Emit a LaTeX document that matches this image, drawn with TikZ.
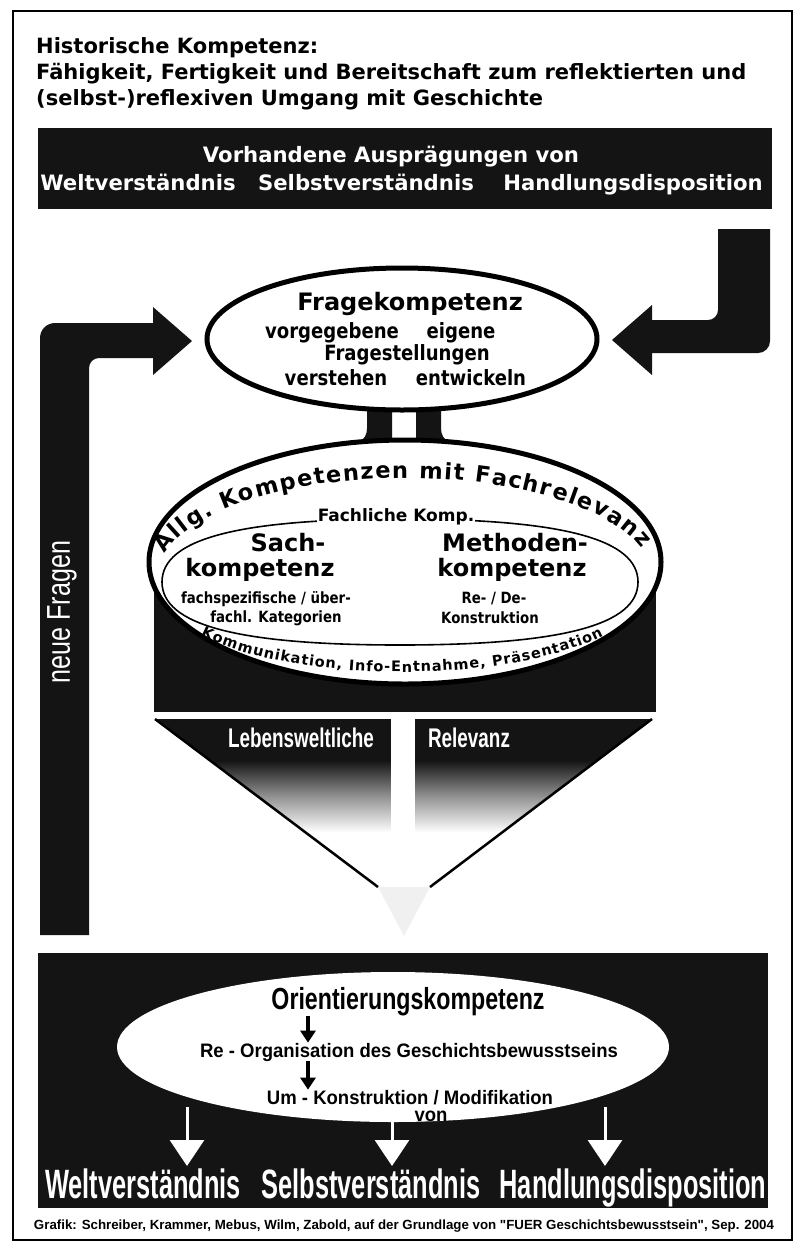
\documentclass[tikz,border=0pt]{standalone}
\usepackage{fontspec}
\setmainfont{DejaVu Sans}
\newfontfamily\verd{DejaVu Sans}
\newfontfamily\tah{DejaVu Sans}[FakeStretch=0.86]
\newfontfamily\narA{Liberation Sans}[FakeStretch=0.62]
\newfontfamily\narB{Liberation Sans}[FakeStretch=0.70]
\newfontfamily\narC{Liberation Sans}[FakeStretch=0.76]
\newfontfamily\narD{Liberation Sans}[FakeStretch=0.95]
\newfontfamily\footfont{Liberation Sans}
\usetikzlibrary{shapes.geometric,arrows.meta,decorations.text}
\newcommand{\myfs}[1]{\fontsize{#1}{#1}\selectfont}
\pgfdeclareverticalshading{downfade}{100bp}{color(0bp)=(white); color(45bp)=(white); color(55bp)=(black!45); color(64bp)=(black!92); color(100bp)=(black!92)}
\begin{document}
\begin{tikzpicture}[x=1pt,y=-1pt,
  ink/.style={fill=black!92},
  ttl/.style={anchor=west,inner sep=0pt,font=\verd\bfseries\myfs{21}},
  bartxt/.style={anchor=base,text=white,inner sep=0pt,font=\verd\bfseries\myfs{21.2}},
  fragehead/.style={inner sep=0pt,font=\verd\bfseries\myfs{24}},
  fragetxt/.style={inner sep=0pt,font=\tah\bfseries\myfs{21}},
  fachhead/.style={inner sep=1pt,fill=white,font=\verd\bfseries\myfs{17}},
  bigkomp/.style={inner sep=0pt,font=\verd\bfseries\myfs{24}},
  smallkomp/.style={inner sep=0pt,font=\tah\bfseries\myfs{15.5}},
  relev/.style={text=white,inner sep=0pt,font=\narB\bfseries\myfs{27}},
  orihead/.style={anchor=base,inner sep=0pt,font=\narC\bfseries\myfs{30.5}},
  oritxt/.style={anchor=base,inner sep=0pt,font=\narD\bfseries\myfs{19.5}},
  bottomword/.style={anchor=base,text=white,inner sep=0pt,font=\narA\bfseries\myfs{41}},
  sarrow/.style={line width=4pt,-{Triangle[width=15pt,length=12pt]}},
  warrow/.style={draw=white,line width=3pt,-{Triangle[width=34pt,length=26pt,fill=white]}},
  ell/.style={ellipse,inner sep=0pt}
]
\useasboundingbox (0,0) rectangle (804,1243);
\fill[white] (0,0) rectangle (804,1243);
% frame
\draw[line width=1.5pt] (13,11) rectangle (792,1240);

% title
\node[ttl] (t1) at (36,48) {Historische Kompetenz:};
\node[ttl] (t2) at (36,74) {Fähigkeit, Fertigkeit und Bereitschaft zum reflektierten und};
\node[ttl] (t3) at (36,100) {(selbst-)reflexiven Umgang mit Geschichte};

% top bar
\fill[ink] (38,128) rectangle (772,209);
\node[bartxt] (vorh) at (391,162) {Vorhandene Ausprägungen von};
\node[bartxt] (w1) at (138,190) {Weltverständnis};
\node[bartxt] (s1) at (366,190) {Selbstverständnis};
\node[bartxt] (h1) at (633,190) {Handlungsdisposition};

% right arrow
\fill[ink] (718,229) -- (770,229) -- (770,341) arc[start angle=0,end angle=90,radius=12]
  -- (652,353) -- (652,375) -- (612,340) -- (652,305) -- (652,320) -- (708,320)
  arc[start angle=90,end angle=0,radius=10] -- cycle;

% left arrow (neue Fragen)
\fill[ink] (40,935) -- (40,338) arc[start angle=180,end angle=270,radius=15]
  -- (153,323) -- (153,307) -- (192,341) -- (153,375) -- (153,358) -- (99,358)
  arc[start angle=270,end angle=180,radius=10] -- (89,935) -- cycle;
\node[rotate=90,text=white,inner sep=0pt,font=\narC\myfs{33}] (nf) at (62,612) {neue Fragen};

% stems between the two ellipses
\fill[ink] (367,395) -- (367,428) .. controls (367,441) and (358,447) .. (320,452)
  -- (320,470) -- (392,470) -- (392,395) -- cycle;
\fill[ink] (441,395) -- (441,428) .. controls (441,441) and (450,447) .. (488,452)
  -- (488,470) -- (416,470) -- (416,395) -- cycle;

% black band behind the middle ellipse
\fill[ink] (154,588) rectangle (656,712);

% middle ellipse
\node[ell,draw,line width=5pt,fill=white,minimum width=512pt,minimum height=244pt] (allg) at (405,562) {};
\path[decorate,decoration={text along path,text align=fit to path,
  text={|\verd\bfseries\myfs{22.5}|Allg. Kompetenzen mit Fachrelevanz}}]
  (405,576) ++(193:246 and 98) arc[start angle=193,end angle=344,x radius=246,y radius=98];
\path[decorate,decoration={text along path,text align=fit to path,
  text={|\verd\bfseries\myfs{14.5}|Kommunikation, Info-Entnahme, Präsentation}}]
  (402,592) ++(147:240 and 80) arc[start angle=147,end angle=33,x radius=240,y radius=80];

% inner (Fachliche Komp.) shape
\draw[line width=1.6pt] (162,582) .. controls (162,539) and (238,519) .. (400,519)
  .. controls (562,519) and (638,539) .. (638,582)
  .. controls (638,625) and (562,645) .. (400,645)
  .. controls (238,645) and (162,625) .. (162,582) -- cycle;
\node[fachhead] (fk) at (396,517) {Fachliche Komp.};
\node[bigkomp] (sach) at (288,543) {Sach-};
\node[bigkomp] (sachk) at (260,570) {kompetenz};
\node[bigkomp] (meth) at (515,543) {Methoden-};
\node[bigkomp] (methk) at (512,570) {kompetenz};
\node[smallkomp] (fs1) at (266,599) {fachspezifische / über-};
\node[smallkomp] (fs2) at (276,618) {fachl. Kategorien};
\node[smallkomp] (rd1) at (494,599) {Re- / De-};
\node[smallkomp] (rd2) at (490,618) {Konstruktion};

% Fragekompetenz ellipse
\node[ell,draw,line width=5pt,fill=white,minimum width=390pt,minimum height=142pt] (frage) at (402,339) {};
\node[fragehead] (fk0) at (410,304) {Fragekompetenz};
\node[fragetxt] (vg) at (332,333) {vorgegebene};
\node[fragetxt] (eg) at (461,333) {eigene};
\node[fragetxt] (fst) at (407,355) {Fragestellungen};
\node[fragetxt] (vs) at (336,378) {verstehen};
\node[fragetxt] (ew) at (471,378) {entwickeln};

% big downward arrow (Lebensweltliche Relevanz)
\path[shading=downfade] (155,719) -- (652,719) -- (403,908) -- cycle;
\fill[black!6] (378,887) -- (430,887) -- (404,936) -- cycle;
\fill[white] (391,714) rectangle (415,870);
\draw[line width=2.5pt] (155,719) -- (378,887);
\draw[line width=2.5pt] (652,719) -- (430,887);
\node[relev] (leb) at (301,738) {Lebensweltliche};
\node[relev] (rel) at (469,738) {Relevanz};

% bottom box
\fill[ink] (38,953) rectangle (768,1208);
\node[ell,fill=white,minimum width=552pt,minimum height=150pt] (orell) at (393,1047) {};
\node[orihead] (ori) at (408,1009) {Orientierungskompetenz};
\node[oritxt] (reo) at (409,1057) {Re - Organisation des Geschichtsbewusstseins};
\node[oritxt] (umk) at (410,1104) {Um - Konstruktion / Modifikation};
\node[oritxt] (von) at (431,1121) {von};
\coordinate (ax) at (308,0);
\draw[sarrow] (ori.south -| ax) -- (reo.north -| ax);
\draw[sarrow] (reo.south -| ax) -- (umk.north -| ax);

\coordinate (tw) at (187,1166);
\coordinate (ts) at (392,1166);
\coordinate (th) at (605,1166);
\draw[warrow] (orell.200 -| tw) -- (tw);
\draw[warrow] (von.south -| ts) -- (ts);
\draw[warrow] (orell.340 -| th) -- (th);

\node[bottomword] (w2) at (143,1198) {Weltverständnis};
\node[bottomword] (s2) at (371,1198) {Selbstverständnis};
\node[bottomword] (h2) at (633,1198) {Handlungsdisposition};

% footer
\node[inner sep=0pt,font=\footfont\bfseries\myfs{13.3}] (foot) at (404,1226)
  {Grafik: Schreiber, Krammer, Mebus, Wilm, Zabold, auf der Grundlage von "FUER Geschichtsbewusstsein", Sep. 2004};
\end{tikzpicture}
\end{document}
